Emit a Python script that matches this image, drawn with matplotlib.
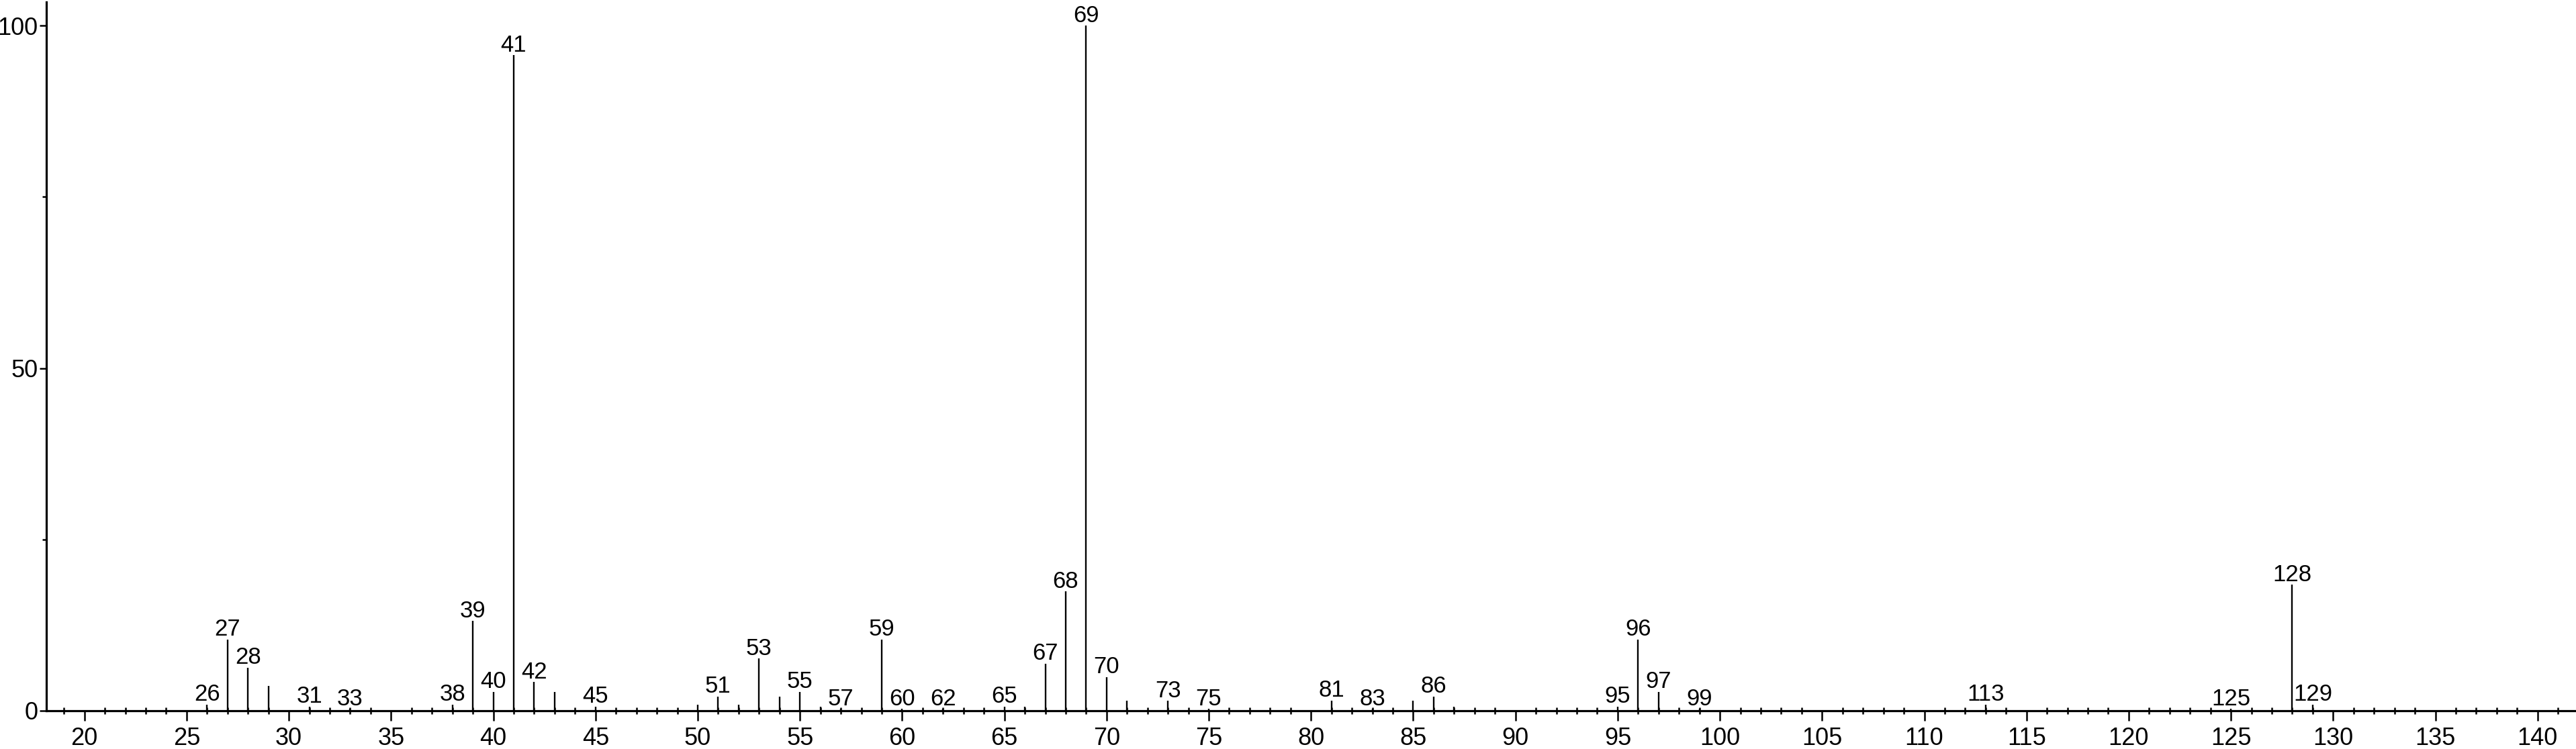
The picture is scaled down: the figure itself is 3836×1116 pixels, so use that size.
import matplotlib
matplotlib.use("Agg")
import matplotlib.pyplot as plt
from matplotlib.ticker import MultipleLocator, FixedLocator

plt.rcParams['font.family'] = ['Liberation Sans', 'DejaVu Sans']

# m/z values and relative intensities (%)
mz = [26, 27, 28, 29, 31, 33, 38, 39, 40, 41, 42, 43, 45, 50, 51, 52, 53, 54,
      55, 56, 57, 59, 60, 62, 65, 66, 67, 68, 69, 70, 71, 73, 75, 81, 83, 85,
      86, 87, 95, 96, 97, 99, 113, 125, 128, 129]
intensity = [0.9, 10.4, 6.3, 3.6, 0.6, 0.25, 0.9, 13.1, 2.75, 95.7, 4.2, 2.75,
             0.6, 0.9, 2.1, 0.9, 7.6, 2.1, 2.75, 0.6, 0.25, 10.4, 0.25, 0.25,
             0.6, 0.6, 6.9, 17.4, 100.0, 4.9, 1.5, 1.45, 0.25, 1.5, 0.25, 1.5,
             2.1, 0.55, 0.6, 10.4, 2.75, 0.25, 0.9, 0.25, 18.4, 0.9]
labeled = [26, 27, 28, 31, 33, 38, 39, 40, 41, 42, 45, 51, 53, 55, 57, 59, 60,
           62, 65, 67, 68, 69, 70, 73, 75, 81, 83, 86, 95, 96, 97, 99, 113, 125,
           128, 129]
y_major = [0, 50, 100]
y_minor = [25, 75]

W, H = 3836, 1116
fig = plt.figure(figsize=(W / 100, H / 100), dpi=100)
left_px, bottom_px, top_px = 68.5, 1059.0, 3.0
ax = fig.add_axes([left_px / W, (H - bottom_px) / H, 1 - left_px / W,
                   (bottom_px - top_px) / H])

ax.vlines(mz, 0, intensity, colors='black', linewidth=1.7)
for m, v in zip(mz, intensity):
    if m in labeled:
        ax.annotate(str(m), (m, v), xytext=(0, 4), textcoords='offset points',
                    ha='center', va='baseline', fontsize=25, color='black')

ax.set_xlim(18.12, 141.88)
ax.set_ylim(0, 103.46)

for s in ['top', 'right']:
    ax.spines[s].set_visible(False)
for s in ['left', 'bottom']:
    ax.spines[s].set_linewidth(2.3)
    ax.spines[s].set_color('black')

ax.xaxis.set_major_locator(MultipleLocator(5))
ax.xaxis.set_minor_locator(MultipleLocator(1))
ax.yaxis.set_major_locator(FixedLocator(y_major))
ax.yaxis.set_minor_locator(FixedLocator(y_minor))

ax.tick_params(axis='x', which='major', direction='out', length=11, width=1.8,
               pad=6.5, labelsize=26)
ax.tick_params(axis='x', which='minor', direction='inout', length=6.5,
               width=1.8)
ax.tick_params(axis='y', which='major', direction='out', length=7.5, width=1.8,
               pad=1, labelsize=26)
ax.tick_params(axis='y', which='minor', direction='out', length=4, width=1.8)

fig.savefig('out.png', dpi=100)
